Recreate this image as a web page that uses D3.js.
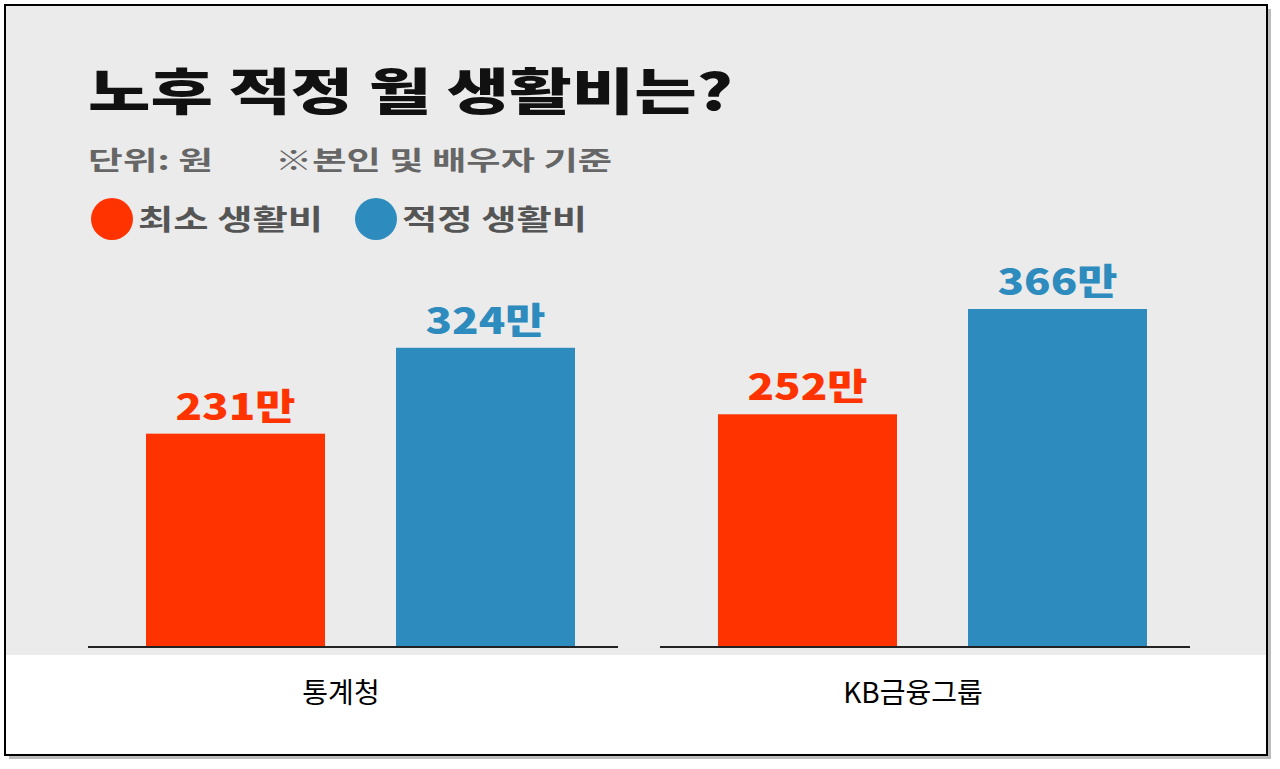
<!DOCTYPE html>
<html><head><meta charset="utf-8">
<script src="https://cdn.jsdelivr.net/npm/d3@7"></script>
<style>body{margin:0;background:#fff}</style>
</head><body><div id="chart"></div>
<script>
// data
var groups = ["통계청", "KB금융그룹"];
var seriesNames = ["최소 생활비", "적정 생활비"];
var minCost = [231, 252];
var properCost = [324, 366];
var colors = ["#ff3300", "#2e8bbd"];

var svg = d3.select("#chart").append("svg").attr("width", 1280).attr("height", 769);
var font = "'Noto Sans CJK KR', sans-serif";

// frame + shadow
svg.append("rect").attr("x", 9).attr("y", 9).attr("width", 1262).attr("height", 750).attr("fill", "#bbb");
svg.append("rect").attr("x", 5).attr("y", 5).attr("width", 1262).attr("height", 750).attr("fill", "#fff").attr("stroke", "#000").attr("stroke-width", 2);
svg.append("rect").attr("x", 6).attr("y", 6).attr("width", 1260).attr("height", 649).attr("fill", "#ebebeb");

svg.append("text").attr("x", 88).attr("y", 110).attr("font-family", font).attr("font-weight", 900)
	.attr("font-size", 50).attr("fill", "#111").attr("textLength", 645).attr("lengthAdjust", "spacingAndGlyphs")
	.text("노후 적정 월 생활비는?");
svg.append("text").attr("x", 88).attr("y", 170).attr("font-family", font).attr("font-weight", 700)
	.attr("font-size", 26).attr("fill", "#666").attr("textLength", 125).attr("lengthAdjust", "spacingAndGlyphs").text("단위: 원");
svg.append("text").attr("x", 275).attr("y", 170).attr("font-family", font).attr("font-weight", 700)
	.attr("font-size", 26).attr("fill", "#666").attr("textLength", 337).attr("lengthAdjust", "spacingAndGlyphs").text("※본인 및 배우자 기준");

var legX = [112, 376];
seriesNames.forEach(function(n, i) {
	svg.append("circle").attr("cx", legX[i]).attr("cy", 219).attr("r", 21).attr("fill", colors[i]);
	svg.append("text").attr("x", legX[i] + 26).attr("y", 230).attr("font-family", font).attr("font-weight", 700)
		.attr("font-size", 28).attr("fill", "#555").attr("textLength", 185).attr("lengthAdjust", "spacingAndGlyphs").text(n);
});

var y = d3.scaleLinear().domain([0, 366]).range([647, 309]);
var gx = d3.scaleBand().domain(groups).range([88, 1190]).paddingInner(0.0734);
var bx = d3.scaleBand().domain([0, 1]).range([58, 487]).paddingInner(0.284);

groups.forEach(function(g, gi) {
	var vals = [minCost[gi], properCost[gi]];
	var grp = svg.append("g").attr("transform", "translate(" + gx(g) + ",0)");
	vals.forEach(function(v, i) {
		grp.append("rect").attr("x", bx(i)).attr("y", y(v)).attr("width", bx.bandwidth())
			.attr("height", y(0) - y(v)).attr("fill", colors[i]);
		grp.append("text").attr("x", bx(i) + bx.bandwidth() / 2).attr("y", y(v) - 14)
			.attr("text-anchor", "middle").attr("font-family", font).attr("font-weight", 900)
			.attr("font-size", 36).attr("fill", colors[i]).attr("textLength", 120).attr("lengthAdjust", "spacingAndGlyphs")
			.text(v + "만");
	});
	grp.append("line").attr("x1", 0).attr("x2", gx.bandwidth()).attr("y1", y(0)).attr("y2", y(0))
		.attr("stroke", "#222").attr("stroke-width", 2);
	svg.append("text").attr("x", gx(g) + gx.bandwidth() / 2 - 12).attr("y", 703).attr("text-anchor", "middle")
		.attr("font-family", font).attr("font-size", 28).attr("fill", "#000").text(g);
});
</script></body></html>
